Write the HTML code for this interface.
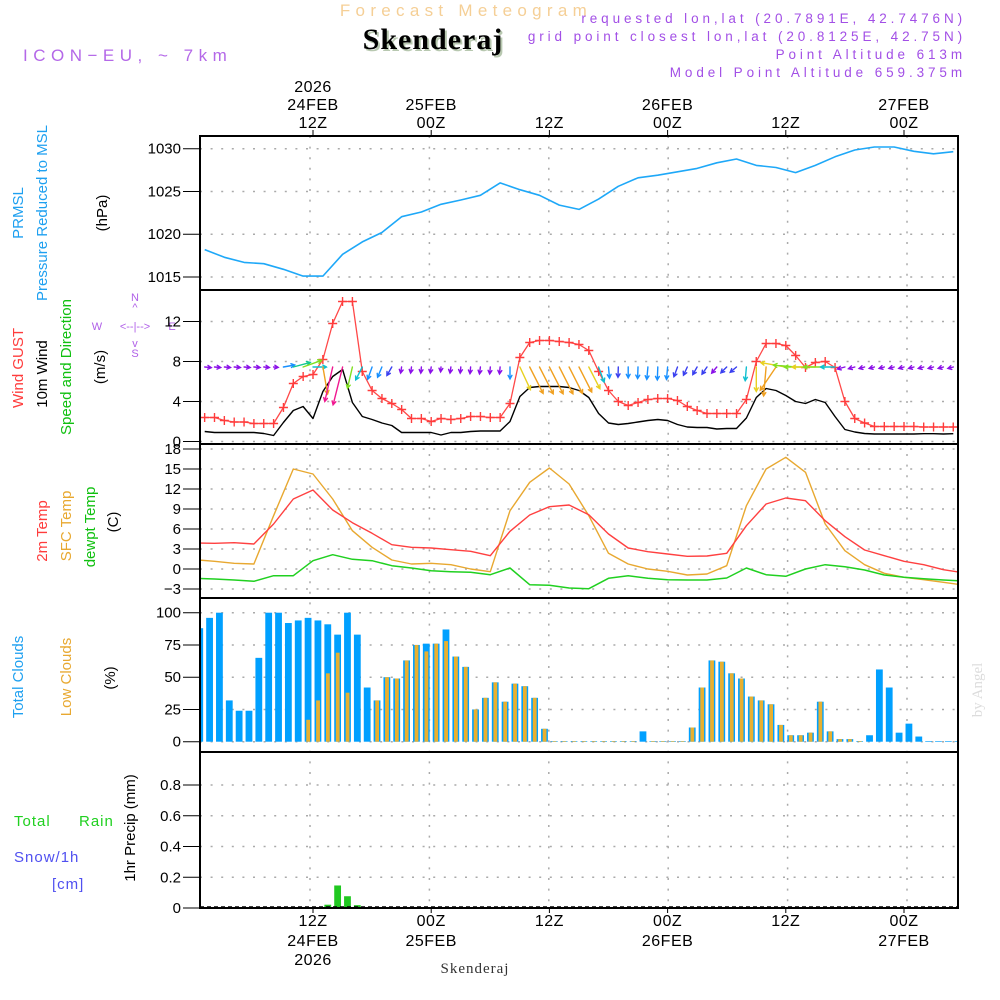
<!DOCTYPE html>
<html><head><meta charset="utf-8">
<style>
html,body{margin:0;padding:0;background:#fff;}
svg{display:block;font-family:"Liberation Sans",sans-serif;}
</style></head>
<body>
<svg id="chart" width="1000" height="1000" viewBox="0 0 1000 1000" xmlns="http://www.w3.org/2000/svg">
<text x="466" y="16" font-size="17" fill="#f5cf96" text-anchor="middle" letter-spacing="5.3">Forecast Meteogram</text>
<text x="435" y="51" font-size="30" font-weight="bold" font-family="Liberation Serif,serif" fill="#b8c8b0" text-anchor="middle" letter-spacing="1">Skenderaj</text>
<text x="433" y="49" font-size="30" font-weight="bold" font-family="Liberation Serif,serif" fill="#000" text-anchor="middle" letter-spacing="1">Skenderaj</text>
<text x="23" y="61" font-size="17" fill="#b468e8" letter-spacing="5.5">ICON−EU, ~ 7km</text>
<g font-size="13.5" fill="#a24fe6" text-anchor="end" letter-spacing="3.9">
<text x="966" y="23">requested lon,lat (20.7891E, 42.7476N)</text>
<text x="966" y="41">grid point closest lon,lat (20.8125E, 42.75N)</text>
<text x="966" y="59">Point Altitude 613m</text>
<text x="966" y="77">Model Point Altitude 659.375m</text>
</g>
<g font-size="15" text-anchor="middle">
<text transform="translate(23,213) rotate(-90)" fill="#1ea0f0">PRMSL</text>
<text transform="translate(47,213) rotate(-90)" fill="#1ea0f0">Pressure Reduced to MSL</text>
<text transform="translate(107,213) rotate(-90)" fill="#000">(hPa)</text>
<text transform="translate(23,368) rotate(-90)" fill="#ff3c3c">Wind GUST</text>
<text transform="translate(47,374) rotate(-90)" fill="#000">10m Wind</text>
<text transform="translate(71,367) rotate(-90)" fill="#10c010">Speed and Direction</text>
<text transform="translate(105,367) rotate(-90)" fill="#000">(m/s)</text>
<text transform="translate(47,531) rotate(-90)" fill="#ff3c3c">2m Temp</text>
<text transform="translate(71,526) rotate(-90)" fill="#e8a830">SFC Temp</text>
<text transform="translate(95,527) rotate(-90)" fill="#10c010">dewpt Temp</text>
<text transform="translate(118,522) rotate(-90)" fill="#000">(C)</text>
<text transform="translate(23,677) rotate(-90)" fill="#1ea0f0">Total Clouds</text>
<text transform="translate(71,677) rotate(-90)" fill="#e8a830">Low Clouds</text>
<text transform="translate(115,678) rotate(-90)" fill="#000">(%)</text>
<text transform="translate(135,828) rotate(-90)" fill="#000">1hr Precip (mm)</text>
</g>
<g font-size="15" letter-spacing="1">
<text x="14" y="826" fill="#20d020">Total</text>
<text x="79" y="826" fill="#20d020">Rain</text>
<text x="14" y="862" fill="#5050f0">Snow/1h</text>
<text x="52" y="889" fill="#5050f0">[cm]</text>
</g>
<g fill="#b060e8" font-size="11" text-anchor="middle">
<text x="135" y="301">N</text>
<text x="135" y="311">^</text>
<text x="97" y="330">W</text>
<text x="135" y="330">&lt;--|--&gt;</text>
<text x="172" y="330">E</text>
<text x="135" y="347">v</text>
<text x="135" y="357">S</text>
</g>
<text transform="translate(982,690) rotate(-90)" font-size="15" font-family="Liberation Serif,serif" fill="#dcdcdc" text-anchor="middle">by Angel</text>
<text x="475" y="973" font-size="15" font-family="Liberation Serif,serif" fill="#333" text-anchor="middle" letter-spacing="1">Skenderaj</text>
<g id="plots"></g>
</svg>
<script>
// ---- data (hourly index k: hour = k+1 from 00Z 24FEB) ----
const pressure = [1018.2,1017.3,1016.7,1016.55,1015.9,1015.1,1015.1,1017.65,1019.1,1020.2,1022.05,1022.6,1023.5,1024.0,1024.55,1026.0,1025.2,1024.55,1023.4,1022.9,1024.1,1025.6,1026.6,1026.9,1027.3,1027.7,1028.35,1028.8,1028.05,1027.8,1027.2,1028.05,1029.05,1029.85,1030.2,1030.2,1029.7,1029.4,1029.65];
const gust = [2.4,2.4,2.1,1.95,1.95,1.8,1.8,1.8,3.4,5.8,6.5,6.7,8.2,11.8,14,14,7.0,5.1,4.3,3.8,3.2,2.3,2.3,2.0,2.3,2.2,2.3,2.5,2.5,2.4,2.4,3.8,8.4,9.9,10.1,10.1,10.0,9.9,9.7,9.1,7.0,5.1,4.0,3.6,3.9,4.2,4.3,4.3,4.1,3.5,3.1,2.8,2.8,2.8,2.8,4.2,8.0,9.8,9.8,9.6,8.6,7.4,7.9,8.0,7.4,4.0,2.3,1.85,1.5,1.5,1.5,1.5,1.5,1.45,1.45,1.45,1.45];
const windSpeed = [1.0,0.9,0.9,0.9,0.9,0.9,0.8,0.6,1.9,3.1,3.5,2.3,5.0,6.5,7.2,3.9,2.5,2.2,1.85,1.6,0.9,0.9,0.9,0.9,0.65,0.9,0.9,1.0,1.05,1.05,1.05,2.0,4.5,5.4,5.5,5.5,5.5,5.4,5.1,4.4,2.8,1.85,1.7,1.8,1.95,2.1,2.2,2.1,1.7,1.45,1.4,1.4,1.25,1.3,1.3,2.35,4.4,5.3,5.1,4.6,4.0,3.8,4.2,3.9,2.5,1.2,0.95,0.8,0.75,0.75,0.75,0.75,0.75,0.78,0.78,0.75,0.78];
const windDir = [275,275,275,275,275,275,275,275,260,255,250,270,350,13,14,13,27,20,23,30,10,8,5,8,5,8,5,5,8,5,5,0,335,333,333,333,333,333,333,333,340,355,2,0,2,5,2,5,20,25,30,35,40,45,50,5,0,5,34,100,95,90,90,90,90,75,75,75,75,75,75,75,75,75,75,75,75];
// temperatures at odd k from -1 to 77
const temp2m = [3.9,3.85,3.95,3.75,6.75,10.5,11.85,8.85,6.95,5.35,3.65,3.25,3.15,2.9,2.65,2.0,5.65,8.1,9.35,9.6,8.15,5.25,3.15,2.6,2.25,1.9,1.95,2.35,6.5,9.75,10.65,10.25,7.25,4.85,2.85,2.0,1.15,0.65,-0.1,-0.55];
const tempSfc = [1.4,1.15,0.85,0.75,8.0,15.0,14.25,10.5,5.75,3.25,1.35,0.75,0.85,0.65,0.0,-0.4,8.75,13.0,15.15,12.75,8.0,2.35,0.75,0.0,-0.35,-0.9,-0.75,0.5,9.5,15.0,16.75,14.5,6.75,2.75,0.65,-0.65,-1.25,-1.6,-2.0,-2.4];
const dewpt = [-1.4,-1.5,-1.65,-1.85,-1.0,-1.0,1.25,2.15,1.45,1.25,0.5,0.15,-0.25,-0.4,-0.5,-0.85,0.15,-2.35,-2.45,-2.85,-2.95,-1.4,-1.0,-1.4,-1.6,-1.65,-1.65,-1.35,0.15,-0.85,-1.1,0,0.65,0.35,-0.15,-0.9,-1.25,-1.45,-1.65,-1.8];
// bars: index i, hour = i+0.5
const totalClouds = [88,96,100,32,24,24,65,100,100,92,94,96,94,91,83,100,83,42,32,50,49,63,75,76,76,87,66,58,25,34,46,31,45,43,34,10,0.5,0.5,0.5,0.5,0.5,0.5,0.5,0.5,0.5,8,0.5,0.5,0.5,0.5,11,42,63,62,53,49,35,32,29,13,5,5,7,31,8,2,2,0.5,5,56,42,7,14,4,0.5,0.5,0.5,0.5];
const lowClouds = [0,0,0,0,0,0,0,0,0,0,0,17,32,53,69,38,0,0,32,50,49,63,75,70,76,78,66,58,25,34,46,31,45,43,34,10,0.5,0.5,0.5,0.5,0.5,0.5,0.5,0.5,0.5,0,0.5,0.5,0.5,0.5,11,42,63,62,53,49,35,32,29,13,5,5,7,31,8,2,2,0.5,0,0,0,0,0,0,0,0,0,0];
const precip = [0,0,0,0,0,0,0,0,0,0,0,0,0,0.015,0.14,0.07,0.012,0,0,0,0,0,0,0,0,0,0,0,0,0,0,0,0,0,0,0,0,0,0,0,0,0,0,0,0,0,0,0,0,0,0,0,0,0,0,0,0,0,0,0,0,0,0,0,0,0,0,0,0,0,0,0,0,0,0,0,0,0];
const pTicks = [1015,1020,1025,1030];
const wTicks = [0,4,8,12];
const tTicks = [-3,0,3,6,9,12,15,18];
const cTicks = [0,25,50,75,100];
const rTicks = [0,0.2,0.4,0.6,0.8];
const timeTickHours = [12,24,36,48,60,72];
const timeTop1 = ["2026","","","","",""];
const timeTop2 = ["24FEB","25FEB","","26FEB","","27FEB"];
const timeHour = ["12Z","00Z","12Z","00Z","12Z","00Z"];

// ---- scales ----
const L=200, R=958;
const xh = h => 313 + (h-12)*9.85;
const xk = k => xh(k+1);
const yP = p => 148.7 + (1030-p)*8.55;
const yW = w => 441.5 - w*10;
const yT = t => 449 + (18-t)*6.667;
const yC = c => 741.7 - c*1.29;
const yR = r => 908 - r*153.75;
const panels = [[136,290],[290,444],[444,598],[598,752],[752,908]];

const NS="http://www.w3.org/2000/svg";
const root=document.getElementById('plots');
function mk(tag, attrs, parent){const e=document.createElementNS(NS,tag);for(const a in attrs)e.setAttribute(a,attrs[a]);(parent||root).appendChild(e);return e;}

const defs=mk('defs',{});
const cp=mk('clipPath',{id:'clip'},defs);
mk('rect',{x:L,y:136,width:R-L,height:772},cp);

// grids
const gridG=mk('g',{stroke:'#aaa','stroke-width':1.5,'stroke-dasharray':'2 8.6'});


function hgrid(vals, fy){vals.forEach(v=>{const l=mk('line',{x1:L,x2:R,y1:fy(v),y2:fy(v)},gridG);

});}
hgrid(pTicks,yP);hgrid(wTicks,yW);hgrid(tTicks,yT);hgrid(cTicks,yC);hgrid(rTicks.slice(1),yR);
timeTickHours.forEach(h=>{const gx=xh(h)-3+ (h-12)/12*1.2;
const l=mk('line',{x1:gx,x2:gx,y1:136,y2:908},gridG);

});

// y tick labels
function yaxis(vals,fy,name,fmt){const g=mk('g',{'font-size':15,'text-anchor':'end',fill:'#000'});


vals.forEach(v=>{const t=mk('text',{x:181,y:fy(v)+5},g);t.textContent=fmt?fmt(v):String(v);


const tl=mk('line',{x1:183,x2:200,y1:fy(v),y2:fy(v),stroke:'#000','stroke-width':1},g);

});}
yaxis(pTicks,yP,'pressure-y-axis');yaxis(wTicks,yW,'wind-y-axis');
yaxis(tTicks,yT,'temp-y-axis',v=>v<0?'−'+(-v):String(v));yaxis(cTicks,yC,'cloud-y-axis');
yaxis(rTicks,yR,'precip-y-axis',v=>v===0?'0':v.toFixed(1));

const plot=mk('g',{'clip-path':'url(#clip)'});



function line(vals, fx, fy, color, name, w){
 const d=vals.map((v,i)=>(i?'L':'M')+fx(i).toFixed(1)+','+fy(v).toFixed(1)).join('');
 const p=mk('path',{d:d,fill:'none',stroke:color,'stroke-width':w||1.5,'stroke-linejoin':'round'},plot);
 
 
}
// pressure (every 2 hours)
line(pressure,i=>xk(2*i),yP,'#1ea8f8','pressure-line',1.6);
// temps (odd k from -1)
line(tempSfc,i=>xk(2*i-1),yT,'#e8a830','sfc-temp-line',1.4);
line(temp2m,i=>xk(2*i-1),yT,'#ff4040','temp-2m-line',1.4);
line(dewpt,i=>xk(2*i-1),yT,'#20d020','dewpt-line',1.5);

// clouds
const cg=mk('g',{},plot);


totalClouds.forEach((v,i)=>{const cx=xh(i+0.5);
 const b=mk('rect',{x:cx-3.4,y:yC(v),width:6.8,height:yC(0)-yC(v),fill:'#00a0ff'},cg);
 
 
 const lv=lowClouds[i]; if(lv>0){
 const b2=mk('rect',{x:cx-1.8,y:yC(lv),width:3.8,height:yC(0)-yC(lv),fill:'#e8b030'},cg);
 
 }
});
// precip
const pg=mk('g',{},plot);


precip.forEach((v,i)=>{if(v<=0)return;const cx=xh(i+0.5);
 const b=mk('rect',{x:cx-3.4,y:yR(v)-1,width:6.8,height:yR(0)-yR(v)+1,fill:'#20c820'},pg);
 
 });
const zl=mk('line',{x1:L,x2:R,y1:yR(0)-1,y2:yR(0)-1,stroke:'#000','stroke-width':1.5,'stroke-dasharray':'4 3'},plot);



// wind speed line
line(windSpeed,xk,yW,'#000','wind-speed-line',1.4);
// gust line + markers
line(gust,xk,yW,'#ff4848','gust-line',1.3);
const gm=mk('g',{stroke:'#ff3c3c','stroke-width':1.4},plot);


gust.forEach((v,k)=>{const x=xk(k),y=yW(v);
 const p=mk('path',{d:`M${x-4.5},${y}H${x+4.5}M${x},${y-4.5}V${y+4.5}`},gm);
 
 });

// wind arrows
function wcol(s){if(s<1.3)return'#8a10e8';if(s<1.8)return'#3a40f0';if(s<2.3)return'#1890ff';if(s<2.9)return'#10c0d0';if(s<3.4)return'#10c890';if(s<4.2)return'#80e020';if(s<4.8)return'#e8d020';if(s<6)return'#f0a020';return'#f01890';}
const ag=mk('g',{fill:'none','stroke-width':1.4,'stroke-linecap':'round'},plot);


windDir.forEach((d,k)=>{const s=windSpeed[k];const a=(d+90)*Math.PI/180;
 const len=1.5+5.2*s;const x0=xk(k),y0=367;const x1=x0+Math.cos(a)*len,y1=y0+Math.sin(a)*len;
 const h=4;const a1=a+Math.PI-0.5,a2=a+Math.PI+0.5;
 const p=mk('path',{d:`M${x0.toFixed(1)},${y0}L${x1.toFixed(1)},${y1.toFixed(1)}M${(x1+Math.cos(a1)*h).toFixed(1)},${(y1+Math.sin(a1)*h).toFixed(1)}L${x1.toFixed(1)},${y1.toFixed(1)}L${(x1+Math.cos(a2)*h).toFixed(1)},${(y1+Math.sin(a2)*h).toFixed(1)}`,stroke:wcol(s)},ag);
 
 });

// frames
const fg=mk('g',{fill:'none',stroke:'#000','stroke-width':2});


panels.forEach(p=>{const r=mk('rect',{x:L,y:p[0],width:R-L,height:p[1]-p[0]},fg);

});

// time axis labels
const tg=mk('g',{'font-size':16,'text-anchor':'middle',fill:'#000','letter-spacing':'0.5'});


timeTickHours.forEach((h,i)=>{const x=xh(h);
 const rows=[[timeTop1[i],92],[timeTop2[i],110],[timeHour[i],128],[timeHour[i],926],[timeTop2[i],946],[timeTop1[i],965]];
 rows.forEach(r=>{if(!r[0])return;const t=mk('text',{x:x,y:r[1]},tg);t.textContent=r[0];
 
 });
 const t1=mk('line',{x1:x,x2:x,y1:130,y2:136,stroke:'#000'},tg);
 
 
 const t2=mk('line',{x1:x,x2:x,y1:908,y2:913,stroke:'#000'},tg);
 
 
});
</script>
</body></html>
